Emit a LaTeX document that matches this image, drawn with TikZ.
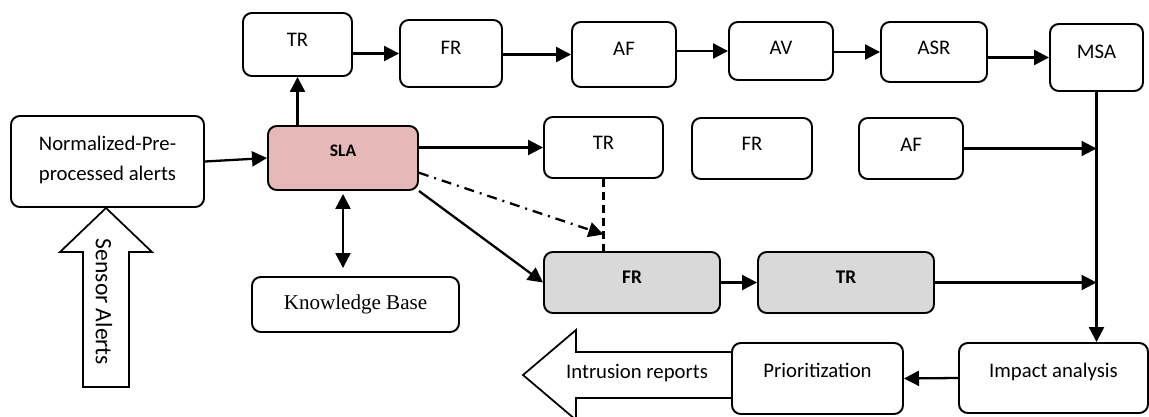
\documentclass[tikz,border=0pt]{standalone}
\usepackage{fontspec}
\setmainfont{Carlito}
\newfontfamily\kbfont{Liberation Serif}
\usetikzlibrary{arrows.meta,calc}
\definecolor{slapink}{HTML}{E6B9B8}
\definecolor{boxgrey}{HTML}{D9D9D9}

\begin{document}
\begin{tikzpicture}[
    x=0.02cm, y=-0.02cm,
    font=\fontsize{11.8}{14}\selectfont,
    wh/.style 2 args={minimum width=#1*0.02cm, minimum height=#2*0.02cm},
    lift/.style={text depth=#1*0.04cm},
    box/.style={draw, line width=1.1pt, rounded corners=5pt, fill=white,
      align=center, inner sep=0pt, lift=5},
    greybox/.style={box, fill=boxgrey, font=\fontsize{11}{13}\selectfont\bfseries},
    link/.style={line width=1.3pt, -{Triangle[length=0.3cm,width=0.3cm]}},
    bigarrow/.style={draw, line width=1pt, fill=white}]
    % 画布
    \useasboundingbox (0,0) rectangle (1149,416);
    \clip (0,0) rectangle (1149,416);
    % 上排方框
    \node[box, wh={109}{63}] (trA) at (297.5,44.5) {TR};
    \node[box, wh={102}{67}, lift=6] (frA) at (451,53.5) {FR};
    \node[box, wh={104}{65}, lift=5.5] (afA) at (624,54.5) {AF};
    \node[box, wh={104}{58}, lift=3] (avA) at (781,51) {AV};
    \node[box, wh={106}{60}, lift=4] (asrA) at (934,52) {ASR};
    \node[box, wh={93}{67}, lift=5.5] (msa) at (1096.5,57.5) {MSA};
    % 中排方框
    \node[box, wh={193}{91}, lift=3, font=\fontsize{11.8}{17}\selectfont] (norm) at (107.5,161.5)
      {Normalized-Pre-\\processed alerts};
    \node[box, wh={150}{64}, lift=7, fill=slapink, font=\fontsize{10}{12}\selectfont\bfseries]
      (sla) at (343,158) {SLA};
    \node[box, wh={119}{61}, lift=4.5] (trB) at (603.5,147.5) {TR};
    \node[box, wh={120}{61}, lift=4.5] (frB) at (752,148.5) {FR};
    \node[box, wh={104}{61}, lift=3.5] (afB) at (911,148.5) {AF};
    % 知识库
    \node[box, wh={207}{55}, lift=2, font=\kbfont\fontsize{12}{14}\selectfont] (kb) at (355.5,304.5)
      {Knowledge Base};
    % 灰色方框
    \node[greybox, wh={176}{61}, lift=5.5] (frC) at (632,282.5) {FR};
    \node[greybox, wh={176}{61}, lift=5.5] (trC) at (846,282.5) {TR};
    % 传感器告警箭头
    \draw[bigarrow] (106,208) -- (152,252) -- (129,252) -- (129,387)
      -- (83,387) -- (83,252) -- (60,252) -- cycle;
    \node[rotate=-90, font=\fontsize{13.4}{15}\selectfont] (sensor) at (104,302) {Sensor Alerts};
    % 入侵报告箭头
    \draw[bigarrow] (523,375) -- (576,330) -- (576,352) -- (740,352)
      -- (740,398) -- (576,398) -- (576,420) -- cycle;
    \node (report) at (637,373) {Intrusion reports};
    % 下排方框
    \node[box, wh={171}{71}, lift=8] (prio) at (817.5,378.5) {Prioritization};
    \node[box, wh={189}{70}, lift=8] (impact) at (1053.5,378) {Impact analysis};

    % 上排连线
    \draw[link] (sla.north -| trA.south) -- (trA.south);
    \draw[link] (trA.east |- frA.west) -- (frA.west);
    \draw[link] (frA.east |- afA.west) -- (afA.west);
    \draw[link] (afA.east |- avA.west) -- (avA.west);
    \draw[link] (avA.east |- asrA.west) -- (asrA.west);
    \draw[link] (asrA.east |- msa.west) -- (msa.west);
    % 中排连线
    \draw[link] (norm.east) -- (sla.west);
    \draw[link] (sla.east |- trB.west) -- (trB.west);
    \draw[link, {Triangle[length=0.3cm,width=0.3cm]}-{Triangle[length=0.3cm,width=0.3cm]},
      shorten <=0.06cm, shorten >=0.16cm] (sla.south) -- (sla.south |- kb.north);
    \draw[link] (sla.south east) -- (frC.west);
    % 虚线
    \coordinate (meet) at ($(trB.south)!0.77!(trB.south |- frC.north)$);
    \draw[line width=1.3pt, dash pattern=on 0.16cm off 0.1cm] (trB.south) -- (trB.south |- frC.north);
    \draw[link, dash pattern=on 0.2cm off 0.12cm on 0.04cm off 0.12cm] (sla.-11) -- (meet);
    % 下排连线
    \draw[link] (frC.east) -- (trC.west);
    \draw[link] (trC.east) -- (trC.east -| msa.south);
    \draw[link] (afB.east) -- (afB.east -| msa.south);
    \draw[link] (msa.south) -- (msa.south |- impact.north);
    \draw[link] (impact.west) -- (prio.east);
\end{tikzpicture}
\end{document}
